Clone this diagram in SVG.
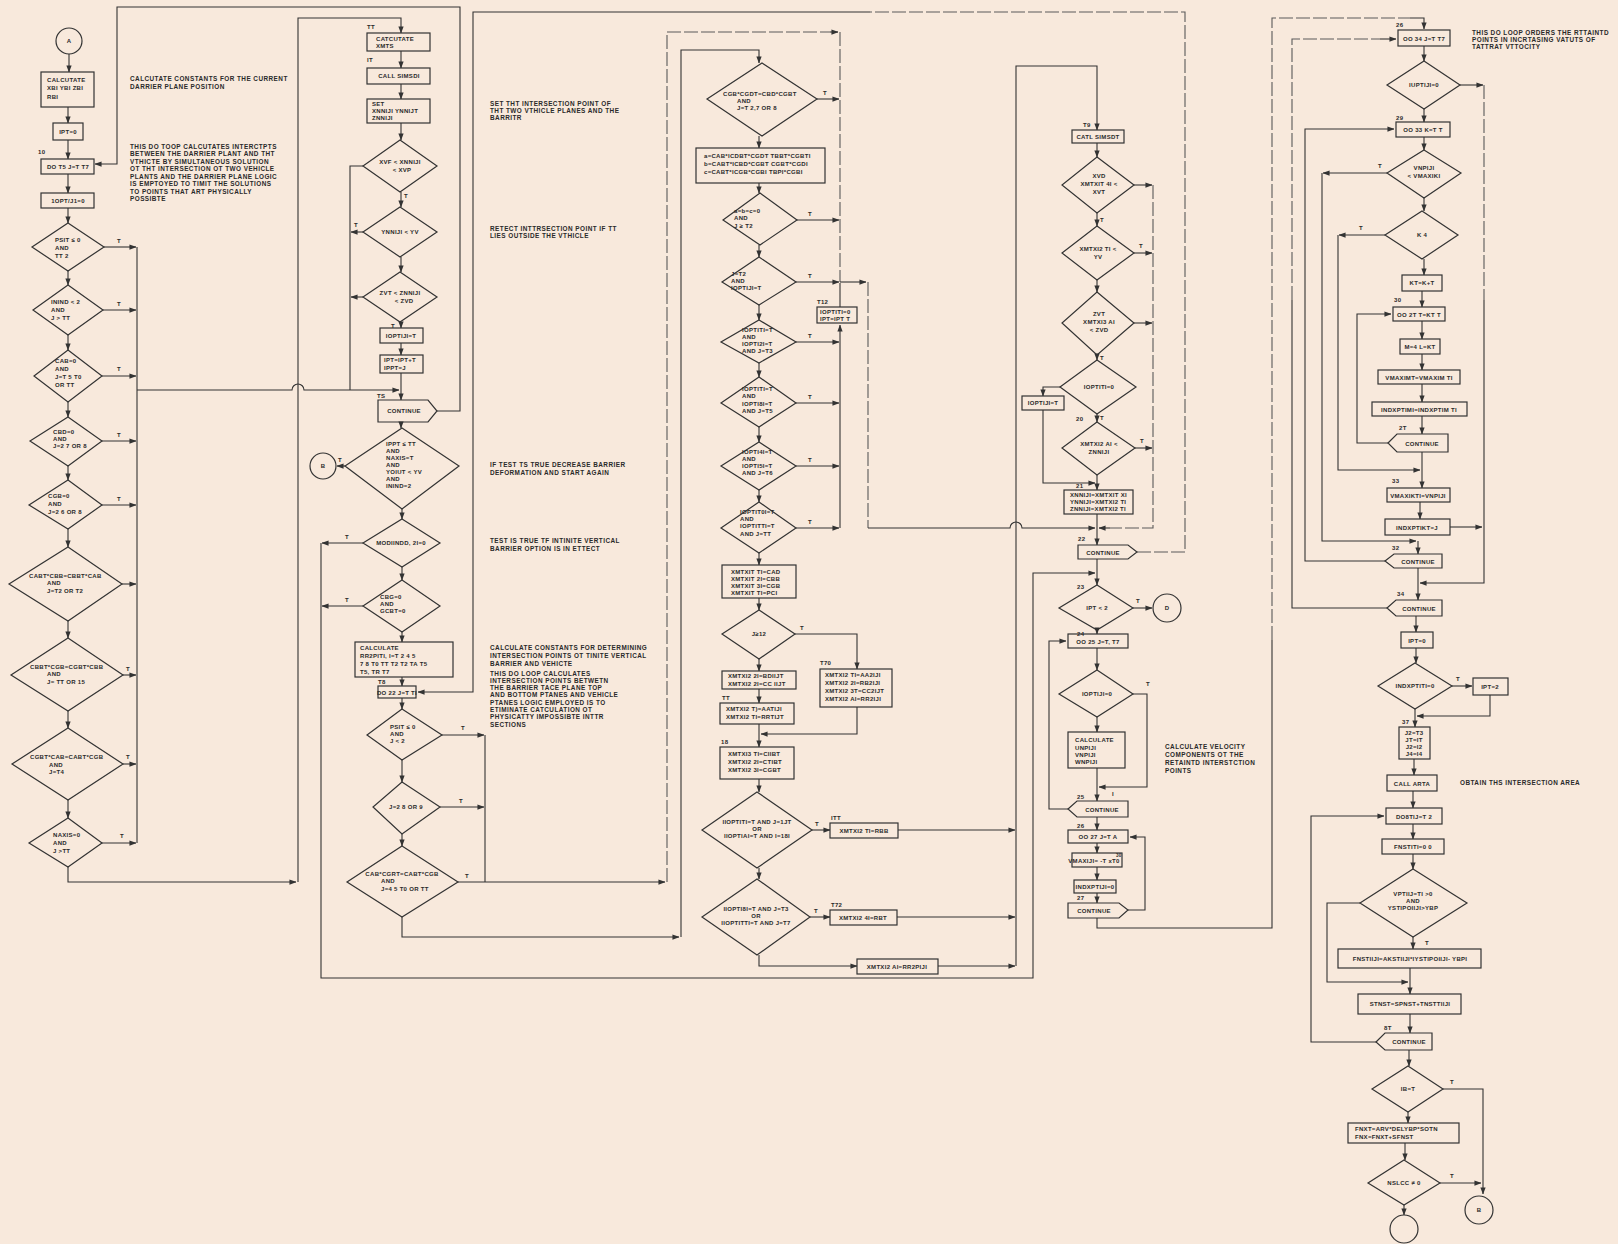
<svg xmlns="http://www.w3.org/2000/svg" width="1618" height="1244" viewBox="0 0 1618 1244">
<style>
.n rect,.n polygon,.n circle{fill:none;stroke:#333;stroke-width:1.2}
text{font-family:"Liberation Sans",Arial,sans-serif;font-weight:bold;fill:#2a2a2a;font-size:6px;letter-spacing:0.3px}
.m{text-anchor:middle}
.an{font-size:6.4px;letter-spacing:0.45px}
#conn path{fill:none;stroke:#333;stroke-width:1.1}
#conn .d{stroke:#5a5a5a;stroke-dasharray:14 3}
#conn .ar{marker-end:url(#ah)}
</style>
<defs><marker id="ah" viewBox="0 0 8 6" refX="7.5" refY="3" markerWidth="7" markerHeight="5.5" orient="auto" markerUnits="userSpaceOnUse"><path d="M0,0L8,3L0,6z" fill="#333"/></marker></defs>
<rect width="1618" height="1244" fill="#f8e9dc"/>

<g id="conn">
<path class="ar" d="M69,54V72"/><path class="ar" d="M68,107V123"/><path class="ar" d="M68,140V159"/><path class="ar" d="M68,174V193"/><path class="ar" d="M68,208V223"/>
<path class="ar" d="M68,271V285"/><path class="ar" d="M68,335V350"/><path class="ar" d="M68,402V417"/><path class="ar" d="M68,466V480"/><path class="ar" d="M68,529V547"/><path class="ar" d="M68,621V638"/><path class="ar" d="M68,711V728"/><path class="ar" d="M68,800V818"/>
<path class="ar" d="M68,867V882H296"/>
<path class="ar" d="M298,882V18H401V33"/>
<path class="ar" d="M104,247H136"/><path class="ar" d="M103,310H136"/><path class="ar" d="M102,376H136"/><path class="ar" d="M102,441H136"/><path class="ar" d="M102,505H136"/><path class="ar" d="M122,584H136"/><path class="ar" d="M123,675H136"/><path class="ar" d="M123,764H136"/><path class="ar" d="M102,843H136"/>
<path d="M137,247V843"/>
<path class="ar" d="M137,390H292A6,6 0 0 1 304,390H399"/>
<path class="ar" d="M401,51V68"/><path class="ar" d="M401,84V99"/><path class="ar" d="M401,123V140"/><path class="ar" d="M401,192V207"/><path class="ar" d="M401,257V272"/><path class="ar" d="M401,322V328"/><path class="ar" d="M401,343V355"/><path class="ar" d="M401,373V400"/>
<path d="M363,166H350V390"/><path class="ar" d="M363,232H351"/><path class="ar" d="M363,297H351"/>
<path class="ar" d="M437,411H460V7H117V164H95"/>
<path class="ar" d="M401,422V428"/>
<path class="ar" d="M345,466H337"/>
<path class="ar" d="M402,509V519"/><path class="ar" d="M363,543H322"/><path class="ar" d="M402,567V580"/><path class="ar" d="M363,606H322"/>
<path class="ar" d="M321,543V978H1033V573H1095"/>
<path class="ar" d="M402,632V642"/><path class="ar" d="M402,677V686"/><path class="ar" d="M402,698V709"/>
<path class="ar" d="M442,735H484"/><path class="ar" d="M402,760V782"/><path class="ar" d="M440,807H484"/><path class="ar" d="M402,834V846"/>
<path d="M485,735V882"/>
<path class="ar" d="M458,882H665"/>
<path class="ar" d="M402,917V937H679"/>
<path class="d" d="M667,882V32H830"/>
<path class="ar" d="M830,32H838"/>
<path class="ar" d="M681,937V50H759V63"/>
<path class="d" d="M840,32V282"/>
<path class="ar" d="M817,99H839"/><path class="ar" d="M759,136V148"/><path class="ar" d="M759,183V193"/><path class="ar" d="M797,220H839"/><path class="ar" d="M759,245V257"/><path class="ar" d="M796,282H839"/>
<path class="ar" d="M840,282H866"/>
<path class="d" d="M868,282V528"/>
<path class="ar" d="M868,528H1010A6,6 0 0 1 1022,528H1095"/>
<path d="M840,307V283"/>
<path class="ar" d="M840,528V325"/>
<path class="ar" d="M759,305V320"/><path class="ar" d="M796,342H839"/><path class="ar" d="M759,363V377"/><path class="ar" d="M796,403H839"/><path class="ar" d="M759,427V442"/><path class="ar" d="M796,466H839"/><path class="ar" d="M759,490V502"/><path class="ar" d="M796,528H839"/>
<path class="ar" d="M759,553V565"/><path class="ar" d="M759,598V610"/>
<path class="ar" d="M795,634H857V669"/>
<path class="ar" d="M759,659V671"/><path class="ar" d="M759,689V703"/>
<path class="ar" d="M857,707V734H761"/>
<path class="ar" d="M759,724V747"/><path class="ar" d="M759,779V792"/>
<path class="ar" d="M812,830H830"/><path class="ar" d="M898,830H1015"/>
<path class="ar" d="M759,868V879"/>
<path class="ar" d="M810,917H830"/><path class="ar" d="M897,917H1015"/>
<path class="ar" d="M759,955V966H857"/><path class="ar" d="M938,966H1015"/>
<path class="ar" d="M1016,966V66H1097V130"/>
<path class="ar" d="M1097,143V157"/><path class="ar" d="M1134,185H1152"/><path class="ar" d="M1097,213V226"/><path class="ar" d="M1134,253H1152"/><path class="ar" d="M1097,280V292"/><path class="ar" d="M1134,323H1152"/><path class="ar" d="M1097,355V360"/>
<path class="ar" d="M1060,387H1043V396"/>
<path class="ar" d="M1097,414V422"/><path class="ar" d="M1135,448H1152"/>
<path class="ar" d="M1043,410V483H1095"/>
<path class="ar" d="M1097,475V490"/>
<path class="d" d="M1153,185V528H1110"/>
<path class="ar" d="M1110,528H1099"/>
<path class="ar" d="M1097,514V545"/>
<path class="d" d="M1137,552H1185V12H870"/>
<path class="ar" d="M870,12H473V692H418"/>
<path class="ar" d="M1097,559V585"/>
<path class="ar" d="M1133,608H1152"/>
<path class="ar" d="M1097,630V634"/><path class="ar" d="M1097,648V670"/>
<path class="ar" d="M1133,694H1147V787H1099"/>
<path class="ar" d="M1097,717V732"/><path class="ar" d="M1097,768V801"/>
<path class="ar" d="M1068,809H1049V641H1066"/>
<path class="ar" d="M1097,817V830"/><path class="ar" d="M1097,843V853"/><path class="ar" d="M1097,867V880"/><path class="ar" d="M1097,893V903"/>
<path class="ar" d="M1128,910H1145V837H1130"/>
<path d="M1097,918V928H1272V640"/>
<path class="d" d="M1272,640V18H1410"/>
<path class="ar" d="M1410,18H1424V29"/>
<path class="ar" d="M1424,46V61"/>
<path class="ar" d="M1460,85H1483"/>
<path class="d" d="M1484,85V300"/>
<path class="ar" d="M1484,300V583H1420"/>
<path class="ar" d="M1424,109V122"/>
<path d="M1387,608H1292V300"/>
<path class="d" d="M1292,300V39H1380"/>
<path class="ar" d="M1380,39H1396"/>
<path class="ar" d="M1424,137V150"/>
<path class="ar" d="M1385,561H1305V129H1394"/>
<path class="ar" d="M1387,173H1323"/>
<path class="ar" d="M1322,173V541H1416"/>
<path class="ar" d="M1424,198V211"/>
<path class="ar" d="M1385,235H1339"/>
<path class="ar" d="M1338,235V470H1420"/>
<path class="ar" d="M1424,259V275"/><path class="ar" d="M1422,291V307"/>
<path class="ar" d="M1388,443H1357V314H1391"/>
<path class="ar" d="M1422,321V339"/><path class="ar" d="M1422,354V370"/><path class="ar" d="M1422,384V402"/><path class="ar" d="M1422,416V434"/><path class="ar" d="M1422,452V488"/><path class="ar" d="M1420,502V519"/>
<path class="ar" d="M1450,527H1482"/>
<path class="ar" d="M1418,541V554"/>
<path class="ar" d="M1418,568V600"/>
<path class="ar" d="M1416,616V632"/><path class="ar" d="M1416,648V663"/>
<path class="ar" d="M1452,686H1472"/>
<path class="ar" d="M1490,695V716H1417"/>
<path class="ar" d="M1415,709V727"/><path class="ar" d="M1414,759V775"/><path class="ar" d="M1413,791V808"/>
<path class="ar" d="M1376,1042H1311V816H1384"/>
<path class="ar" d="M1413,824V839"/><path class="ar" d="M1413,854V869"/>
<path class="ar" d="M1360,903H1327V982H1408"/>
<path class="ar" d="M1413,937V949"/><path class="ar" d="M1410,968V994"/><path class="ar" d="M1410,1014V1033"/><path class="ar" d="M1409,1050V1066"/>
<path class="ar" d="M1443,1089H1483V1194"/>
<path class="ar" d="M1408,1112V1123"/><path class="ar" d="M1405,1143V1160"/>
<path class="ar" d="M1440,1183H1481"/>
<path class="ar" d="M1404,1205V1215"/>
</g>

<g id="labels">
<text x="38" y="154">10</text>
<text x="117" y="243">T</text><text x="117" y="306">T</text><text x="117" y="371">T</text><text x="117" y="437">T</text><text x="117" y="501">T</text><text x="126" y="671">T</text><text x="126" y="759">T</text><text x="120" y="838">T</text>
<text x="367" y="29">TT</text><text x="367" y="62">IT</text>
<text x="404" y="198">T</text><text x="354" y="227">T</text><text x="391" y="328">T</text>
<text x="377" y="398">TS</text>
<text x="338" y="462">T</text><text x="345" y="539">T</text><text x="345" y="602">T</text>
<text x="378" y="684">T8</text>
<text x="461" y="730">T</text><text x="459" y="803">T</text><text x="465" y="878">T</text>
<text x="823" y="95">T</text><text x="808" y="216">T</text><text x="808" y="278">T</text>
<text x="817" y="304">T12</text>
<text x="808" y="338">T</text><text x="808" y="399">T</text><text x="808" y="462">T</text><text x="808" y="524">T</text>
<text x="800" y="630">T</text><text x="820" y="665">T70</text><text x="722" y="700">TT</text><text x="721" y="744">18</text>
<text x="815" y="826">T</text><text x="831" y="820">ITT</text>
<text x="814" y="913">T</text><text x="831" y="907">T72</text>
<text x="1083" y="127">T9</text>
<text x="1100" y="222">T</text><text x="1139" y="248">T</text><text x="1100" y="360">T</text>
<text x="1100" y="420">T</text><text x="1076" y="421">20</text><text x="1140" y="443">T</text>
<text x="1076" y="488">21</text><text x="1078" y="541">22</text>
<text x="1077" y="589">23</text><text x="1136" y="603">T</text><text x="1077" y="636">24</text>
<text x="1146" y="686">T</text><text x="1112" y="796">I</text>
<text x="1077" y="799">25</text><text x="1077" y="828">26</text><text x="1077" y="900">27</text>
<text x="1396" y="27">26</text><text x="1396" y="120">29</text>
<text x="1378" y="168">T</text><text x="1359" y="230">T</text>
<text x="1394" y="302">30</text><text x="1399" y="430">2T</text><text x="1392" y="483">33</text><text x="1392" y="550">32</text><text x="1397" y="596">34</text>
<text x="1456" y="681">T</text><text x="1402" y="724">37</text><text x="1425" y="945">T</text>
<text x="1384" y="1030">8T</text><text x="1450" y="1084">T</text><text x="1450" y="1178">T</text>
</g>

<g id="notes">
<text class="an" x="130" y="81">CALCUTATE CONSTANTS FOR THE CURRENT</text>
<text class="an" x="130" y="89">DARRIER PLANE POSITION</text>
<text class="an" x="130" y="149">THIS DO TOOP CALCUTATES INTERCTPTS</text>
<text class="an" x="130" y="156">BETWEEN THE DARRIER PLANT AND THT</text>
<text class="an" x="130" y="164">VTHICTE BY SIMULTANEOUS SOLUTION</text>
<text class="an" x="130" y="171">OT THT INTERSECTION OT TWO VEHICLE</text>
<text class="an" x="130" y="179">PLANTS AND THE DARRIER PLANE  LOGIC</text>
<text class="an" x="130" y="186">IS EMPTOYED TO TIMIT THE SOLUTIONS</text>
<text class="an" x="130" y="194">TO POINTS THAT ART PHYSICALLY</text>
<text class="an" x="130" y="201">POSSIBTE</text>
<text class="an" x="490" y="106">SET THT INTERSECTION POINT OF</text>
<text class="an" x="490" y="113">THT TWO VTHICLE PLANES AND THE</text>
<text class="an" x="490" y="120">BARRITR</text>
<text class="an" x="490" y="231">RETECT INTTRSECTION POINT IF TT</text>
<text class="an" x="490" y="238">LIES OUTSIDE THE VTHICLE</text>
<text class="an" x="490" y="467">IF TEST TS TRUE  DECREASE BARRIER</text>
<text class="an" x="490" y="475">DEFORMATION AND START AGAIN</text>
<text class="an" x="490" y="543">TEST IS TRUE TF INTINITE VERTICAL</text>
<text class="an" x="490" y="551">BARRIER OPTION IS IN ETTECT</text>
<text class="an" x="490" y="650">CALCULATE CONSTANTS FOR DETERMINING</text>
<text class="an" x="490" y="658">INTERSECTION POINTS OT TINITE VERTICAL</text>
<text class="an" x="490" y="666">BARRIER AND VEHICTE</text>
<text class="an" x="490" y="676">THIS DO LOOP CALCULATES</text>
<text class="an" x="490" y="683">INTERSECTION POINTS BETWETN</text>
<text class="an" x="490" y="690">THE BARRIER TACE PLANE  TOP</text>
<text class="an" x="490" y="697">AND BOTTOM PTANES AND VEHICLE</text>
<text class="an" x="490" y="705">PTANES  LOGIC EMPLOYED IS TO</text>
<text class="an" x="490" y="712">ETIMINATE CATCULATION OT</text>
<text class="an" x="490" y="719">PHYSICATTY IMPOSSIBTE INTTR</text>
<text class="an" x="490" y="727">SECTIONS</text>
<text class="an" x="1165" y="749">CALCULATE VELOCITY</text>
<text class="an" x="1165" y="757">COMPONENTS OT THE</text>
<text class="an" x="1165" y="765">RETAINTD INTERSTCTION</text>
<text class="an" x="1165" y="773">POINTS</text>
<text class="an" x="1472" y="35">THIS DO LOOP ORDERS THE RTTAINTD</text>
<text class="an" x="1472" y="42">POINTS IN INCRTASING VATUTS OF</text>
<text class="an" x="1472" y="49">TATTRAT VTTOCITY</text>
<text class="an" x="1460" y="785">OBTAIN THS INTERSECTION AREA</text>
</g>

<g id="n_A" class="n"><circle cx="69" cy="41" r="13"/><text class="m" x="69" y="43">A</text></g>
<g id="n_calcxb" class="n"><rect x="41" y="72" width="53" height="35"/><text x="47" y="82">CALCUTATE</text><text x="47" y="90">XBI YBI ZBI</text><text x="47" y="99">RBI</text></g>
<g id="n_ipt0" class="n"><rect x="53" y="123" width="30" height="17"/><text class="m" x="68" y="134">IPT=0</text></g>
<g id="n_do15" class="n"><rect x="41" y="159" width="53" height="15"/><text class="m" x="68" y="169">DO T5 J=T T7</text></g>
<g id="n_iopt0" class="n"><rect x="41" y="193" width="53" height="15"/><text class="m" x="68" y="203">1OPT/J1=0</text></g>
<g id="n_d1" class="n"><polygon points="68,223 104,247 68,271 32,247"/><text x="55" y="242">PSIT ≤ 0</text><text x="55" y="250">AND</text><text x="55" y="258">TT 2</text></g>
<g id="n_d2" class="n"><polygon points="68,285 103,310 68,335 33,310"/><text x="51" y="304">ININD &lt; 2</text><text x="51" y="312">AND</text><text x="51" y="320">J &gt; TT</text></g>
<g id="n_d3" class="n"><polygon points="68,350 102,376 68,402 34,376"/><text x="55" y="363">CAB=0</text><text x="55" y="371">AND</text><text x="55" y="379">J=T 5 T0</text><text x="55" y="387">OR TT</text></g>
<g id="n_d4" class="n"><polygon points="68,417 102,441 68,466 30,441"/><text x="53" y="434">CBD=0</text><text x="53" y="441">AND</text><text x="53" y="448">J=2 7 OR 8</text></g>
<g id="n_d5" class="n"><polygon points="68,480 102,505 68,529 29,505"/><text x="48" y="498">CGB=0</text><text x="48" y="506">AND</text><text x="48" y="514">J=2 6 OR 8</text></g>
<g id="n_d6" class="n"><polygon points="68,547 122,584 68,621 9,584"/><text x="29" y="578">CABT*CBB=CBBT*CAB</text><text x="47" y="585">AND</text><text x="47" y="593">J=T2 OR T2</text></g>
<g id="n_d7" class="n"><polygon points="68,638 123,675 68,711 11,675"/><text x="30" y="669">CBBT*CGB=CGBT*CBB</text><text x="47" y="676">AND</text><text x="47" y="684">J= TT OR 15</text></g>
<g id="n_d8" class="n"><polygon points="68,728 123,764 68,800 12,764"/><text x="30" y="759">CGBT*CAB=CABT*CGB</text><text x="49" y="767">AND</text><text x="49" y="774">J=T4</text></g>
<g id="n_d9" class="n"><polygon points="68,818 102,843 68,867 29,843"/><text x="53" y="837">NAXIS=0</text><text x="53" y="845">AND</text><text x="53" y="853">J &gt;TT</text></g>

<g id="n_xmts" class="n"><rect x="367" y="33" width="63" height="18"/><text x="376" y="41">CATCUTATE</text><text x="376" y="48">XMTS</text></g>
<g id="n_simsdi" class="n"><rect x="367" y="68" width="63" height="16"/><text class="m" x="399" y="78">CALL SIMSDI</text></g>
<g id="n_set" class="n"><rect x="367" y="99" width="63" height="24"/><text x="372" y="106">SET</text><text x="372" y="113">XNNIJI YNNIJT</text><text x="372" y="120">ZNNIJI</text></g>
<g id="n_xvf" class="n"><polygon points="400,140 437,166 400,192 363,166"/><text class="m" x="400" y="164">XVF &lt; XNNIJI</text><text class="m" x="402" y="172">&lt; XVP</text></g>
<g id="n_ynn" class="n"><polygon points="400,207 437,232 400,257 363,232"/><text class="m" x="400" y="234">YNNIJI &lt; YV</text></g>
<g id="n_zvt" class="n"><polygon points="400,272 437,297 400,322 363,297"/><text class="m" x="400" y="295">ZVT &lt; ZNNIJI</text><text class="m" x="404" y="303">&lt; ZVD</text></g>
<g id="n_ioptT" class="n"><rect x="380" y="328" width="43" height="15"/><text class="m" x="401" y="338">IOPTIJI=T</text></g>
<g id="n_iptinc" class="n"><rect x="380" y="355" width="43" height="18"/><text x="384" y="362">IPT=IPT+T</text><text x="384" y="370">IPPT=J</text></g>
<g id="n_cont15" class="n"><polygon points="378,400 428,400 437,411 428,422 378,422"/><text class="m" x="404" y="413">CONTINUE</text></g>
<g id="n_ippt" class="n"><polygon points="402,428 459,466 402,509 345,466"/><text x="386" y="446">IPPT ≤ TT</text><text x="386" y="453">AND</text><text x="386" y="460">NAXIS=T</text><text x="386" y="467">AND</text><text x="386" y="474">YOIUT &lt; YV</text><text x="386" y="481">AND</text><text x="386" y="488">ININD=2</text></g>
<g id="n_B1" class="n"><circle cx="323" cy="466" r="13"/><text class="m" x="323" y="468">B</text></g>
<g id="n_modi" class="n"><polygon points="402,519 440,543 402,567 363,543"/><text class="m" x="401" y="545">MODIINDD, 2I=0</text></g>
<g id="n_cbg" class="n"><polygon points="402,580 440,606 402,632 363,606"/><text x="380" y="599">CBG=0</text><text x="380" y="606">AND</text><text x="380" y="613">GCBT=0</text></g>
<g id="n_rr2p" class="n"><rect x="355" y="642" width="98" height="35"/><text x="360" y="650">CALCULATE</text><text x="360" y="658">RR2PITI, I=T 2  4 5</text><text x="360" y="666">7 8  T0  TT  T2  T2  TA  T5</text><text x="360" y="674">T5, TR  T7</text></g>
<g id="n_do22" class="n"><rect x="378" y="686" width="38" height="12"/><text class="m" x="397" y="695">DO 22 J=T TI</text></g>
<g id="n_psit" class="n"><polygon points="402,709 442,735 402,760 367,735"/><text x="390" y="729">PSIT ≤ 0</text><text x="390" y="736">AND</text><text x="390" y="743">J &lt; 2</text></g>
<g id="n_j289" class="n"><polygon points="402,782 440,807 402,834 373,807"/><text class="m" x="406" y="809">J=2 8 OR 9</text></g>
<g id="n_cab" class="n"><polygon points="402,846 458,882 402,917 347,882"/><text class="m" x="402" y="876">CAB*CGRT=CABT*CGB</text><text x="381" y="883">AND</text><text x="381" y="891">J=4 5 T0 OR TT</text></g>

<g id="n_cgb" class="n"><polygon points="762,63 817,99 762,136 707,99"/><text x="723" y="96">CGB*CGDT=CBD*CGBT</text><text x="737" y="103">AND</text><text x="737" y="110">J=T 2,7 OR 8</text></g>
<g id="n_abc" class="n"><rect x="696" y="148" width="129" height="35"/><text x="704" y="158">a=CAB*ICDBT*CGDT TBBT*CGBTI</text><text x="704" y="166">b=CABT*ICBD*CGBT CGBT*CGDI</text><text x="704" y="174">c=CABT*ICGB*CGBI TBPI*CGBI</text></g>
<g id="n_abc0" class="n"><polygon points="760,193 797,220 760,245 723,220"/><text x="734" y="213">a=b=c=0</text><text x="734" y="220">AND</text><text x="734" y="228">J ≥ T2</text></g>
<g id="n_jt2" class="n"><polygon points="759,257 796,282 759,305 722,282"/><text x="731" y="276">J=T2</text><text x="731" y="283">AND</text><text x="731" y="290">IOPTIJI=T</text></g>
<g id="n_t12" class="n"><rect x="817" y="307" width="40" height="16"/><text x="820" y="314">IOPTITI=0</text><text x="820" y="321">IPT=IPT  T</text></g>
<g id="n_c1" class="n"><polygon points="759,320 796,342 759,363 721,342"/><text x="742" y="332">IOPTITI=T</text><text x="742" y="339">AND</text><text x="742" y="346">IOPTI2I=T</text><text x="742" y="353">AND J=T3</text></g>
<g id="n_c2" class="n"><polygon points="759,377 796,403 759,427 721,403"/><text x="742" y="391">IOPTITI=T</text><text x="742" y="398">AND</text><text x="742" y="406">IOPTI8I=T</text><text x="742" y="413">AND J=T5</text></g>
<g id="n_c3" class="n"><polygon points="759,442 796,466 759,490 721,466"/><text x="742" y="454">IOPTI4I=T</text><text x="742" y="461">AND</text><text x="742" y="468">IOPTI5I=T</text><text x="742" y="475">AND J=T6</text></g>
<g id="n_c4" class="n"><polygon points="759,502 796,528 759,553 721,528"/><text x="740" y="514">IOPTIT0I=T</text><text x="740" y="521">AND</text><text x="740" y="528">IOPTITTI=T</text><text x="740" y="536">AND J=TT</text></g>
<g id="n_xmt1" class="n"><rect x="722" y="565" width="74" height="33"/><text x="731" y="574">XMTXIT TI=CAD</text><text x="731" y="581">XMTXIT 2I=CBB</text><text x="731" y="588">XMTXIT 3I=CGB</text><text x="731" y="595">XMTXIT  TI=PCI</text></g>
<g id="n_j12" class="n"><polygon points="759,610 795,634 759,659 722,634"/><text class="m" x="759" y="636">J≥12</text></g>
<g id="n_bbcc" class="n"><rect x="722" y="671" width="74" height="18"/><text x="728" y="678">XMTXI2  2I=BDIIJT</text><text x="728" y="686">XMTXI2  2I=CC IIJT</text></g>
<g id="n_aat" class="n"><rect x="720" y="703" width="74" height="21"/><text x="726" y="711">XMTXI2  T)=AATIJI</text><text x="726" y="719">XMTXI2  TI=RRTIJT</text></g>
<g id="n_t70" class="n"><rect x="820" y="669" width="72" height="38"/><text x="825" y="677">XMTXI2  TI=AA2IJI</text><text x="825" y="685">XMTXI2  2I=RB2IJI</text><text x="825" y="693">XMTXI2  3T=CC2IJT</text><text x="825" y="701">XMTXI2  AI=RR2IJI</text></g>
<g id="n_18" class="n"><rect x="720" y="747" width="74" height="32"/><text x="728" y="756">XMTXI3  TI=CIIBT</text><text x="728" y="764">XMTXI2  2I=CTIBT</text><text x="728" y="772">XMTXI2  3I=CGBT</text></g>
<g id="n_e1" class="n"><polygon points="757,792 812,830 757,868 702,830"/><text class="m" x="757" y="824">IIOPTITI=T AND J=1JT</text><text class="m" x="757" y="831">OR</text><text class="m" x="757" y="838">IIOPTIAI=T AND I=18I</text></g>
<g id="n_rbb" class="n"><rect x="830" y="823" width="68" height="15"/><text class="m" x="864" y="833">XMTXI2  TI=RBB</text></g>
<g id="n_e2" class="n"><polygon points="757,879 810,917 757,955 702,917"/><text class="m" x="756" y="911">IIOPTI8I=T AND J=T3</text><text class="m" x="756" y="918">OR</text><text class="m" x="756" y="925">IIOPTITTI=T AND J=T7</text></g>
<g id="n_rbt" class="n"><rect x="830" y="910" width="67" height="15"/><text class="m" x="863" y="920">XMTXI2  4I=RBT</text></g>
<g id="n_rr2pj" class="n"><rect x="857" y="959" width="81" height="15"/><text class="m" x="897" y="969">XMTXI2  AI=RR2PIJI</text></g>

<g id="n_simsdt" class="n"><rect x="1072" y="130" width="52" height="13"/><text class="m" x="1098" y="139">CATL SIMSDT</text></g>
<g id="n_xvd" class="n"><polygon points="1097,157 1134,185 1097,213 1062,185"/><text class="m" x="1099" y="178">XVD</text><text class="m" x="1099" y="186">XMTXIT  4I &lt;</text><text class="m" x="1099" y="194">XVT</text></g>
<g id="n_yv" class="n"><polygon points="1097,226 1134,253 1097,280 1062,253"/><text class="m" x="1098" y="251">XMTXI2  TI &lt;</text><text class="m" x="1098" y="259">YV</text></g>
<g id="n_zvd" class="n"><polygon points="1097,292 1134,323 1097,355 1062,323"/><text class="m" x="1099" y="316">ZVT</text><text class="m" x="1099" y="324">XMTXI3  AI</text><text class="m" x="1099" y="332">&lt; ZVD</text></g>
<g id="n_ioptt0" class="n"><polygon points="1097,360 1136,387 1097,414 1060,387"/><text class="m" x="1099" y="389">IOPTITI=0</text></g>
<g id="n_ioptjt" class="n"><rect x="1022" y="396" width="42" height="14"/><text class="m" x="1043" y="405">IOPTIJI=T</text></g>
<g id="n_znn" class="n"><polygon points="1097,422 1135,448 1097,475 1062,448"/><text class="m" x="1099" y="446">XMTXI2  AI &lt;</text><text class="m" x="1099" y="454">ZNNIJI</text></g>
<g id="n_21" class="n"><rect x="1064" y="490" width="69" height="24"/><text x="1070" y="497">XNNIJI=XMTXIT  XI</text><text x="1070" y="504">YNNIJI=XMTXI2  TI</text><text x="1070" y="511">ZNNIJI=XMTXI2  TI</text></g>
<g id="n_cont22" class="n"><polygon points="1078,545 1128,545 1137,552 1128,559 1078,559"/><text class="m" x="1103" y="555">CONTINUE</text></g>
<g id="n_ipt2" class="n"><polygon points="1097,585 1133,608 1097,630 1059,608"/><text class="m" x="1097" y="610">IPT &lt; 2</text></g>
<g id="n_D" class="n"><circle cx="1167" cy="608" r="14"/><text class="m" x="1167" y="610">D</text></g>
<g id="n_do25" class="n"><rect x="1068" y="634" width="60" height="14"/><text class="m" x="1098" y="644">OO 25 J=T, T7</text></g>
<g id="n_ioptj0" class="n"><polygon points="1097,670 1133,694 1097,717 1059,694"/><text class="m" x="1097" y="696">IOPTIJI=0</text></g>
<g id="n_calcv" class="n"><rect x="1068" y="732" width="57" height="36"/><text x="1075" y="742">CALCULATE</text><text x="1075" y="750">UNPIJI</text><text x="1075" y="757">VNPIJI</text><text x="1075" y="764">WNPIJI</text></g>
<g id="n_cont25" class="n"><polygon points="1068,809 1077,801 1128,801 1128,817 1077,817"/><text class="m" x="1102" y="812">CONTINUE</text></g>
<g id="n_do27" class="n"><rect x="1068" y="830" width="60" height="13"/><text class="m" x="1098" y="839">OO 27 J=T  A</text></g>
<g id="n_vmax" class="n"><rect x="1072" y="853" width="50" height="14"/><text class="m" x="1094" y="863">VMAXIJI= -T xT0</text><text x="1116" y="857" style="font-size:4.5px">30</text></g>
<g id="n_indx0" class="n"><rect x="1074" y="880" width="42" height="13"/><text class="m" x="1095" y="889">INDXPTIJI=0</text></g>
<g id="n_cont27" class="n"><polygon points="1068,903 1119,903 1128,910 1119,918 1068,918"/><text class="m" x="1094" y="913">CONTINUE</text></g>

<g id="n_do34" class="n"><rect x="1398" y="30" width="52" height="16"/><text class="m" x="1424" y="41">OO 34 J=T  T7</text></g>
<g id="n_iuptj" class="n"><polygon points="1424,61 1460,85 1424,109 1387,85"/><text class="m" x="1424" y="87">IUPTIJI=0</text></g>
<g id="n_do33" class="n"><rect x="1396" y="122" width="54" height="15"/><text class="m" x="1423" y="132">OO 33 K=T  T</text></g>
<g id="n_vnp" class="n"><polygon points="1424,150 1461,173 1424,198 1387,173"/><text class="m" x="1424" y="170">VNPIJI</text><text class="m" x="1424" y="178">&lt; VMAXIKI</text></g>
<g id="n_k4" class="n"><polygon points="1422,211 1458,235 1422,259 1385,235"/><text class="m" x="1422" y="237">K  4</text></g>
<g id="n_kt" class="n"><rect x="1402" y="275" width="40" height="16"/><text class="m" x="1422" y="285">KT=K+T</text></g>
<g id="n_do2t" class="n"><rect x="1393" y="307" width="52" height="14"/><text class="m" x="1419" y="317">OO 2T T=KT  T</text></g>
<g id="n_m4" class="n"><rect x="1400" y="339" width="40" height="15"/><text class="m" x="1420" y="349">M=4  L=KT</text></g>
<g id="n_vmaxm" class="n"><rect x="1378" y="370" width="82" height="14"/><text class="m" x="1419" y="380">VMAXIMT=VMAXIM  TI</text></g>
<g id="n_indxm" class="n"><rect x="1372" y="402" width="95" height="14"/><text class="m" x="1419" y="412">INDXPTIMI=INDXPTIM  TI</text></g>
<g id="n_cont2t" class="n"><polygon points="1388,443 1397,434 1448,434 1448,452 1397,452"/><text class="m" x="1422" y="446">CONTINUE</text></g>
<g id="n_vmaxkt" class="n"><rect x="1387" y="488" width="63" height="14"/><text class="m" x="1418" y="498">VMAXIKTI=VNPIJI</text></g>
<g id="n_indxkt" class="n"><rect x="1385" y="519" width="65" height="16"/><text class="m" x="1417" y="530">INDXPTIKT=J</text></g>
<g id="n_cont32" class="n"><polygon points="1385,561 1394,554 1442,554 1442,568 1394,568"/><text class="m" x="1418" y="564">CONTINUE</text></g>
<g id="n_cont34" class="n"><polygon points="1387,608 1396,600 1442,600 1442,616 1396,616"/><text class="m" x="1419" y="611">CONTINUE</text></g>
<g id="n_ipt0b" class="n"><rect x="1401" y="632" width="32" height="16"/><text class="m" x="1417" y="643">IPT=0</text></g>
<g id="n_indxt0" class="n"><polygon points="1415,663 1452,686 1415,709 1378,686"/><text class="m" x="1415" y="688">INDXPTITI=0</text></g>
<g id="n_ipt2b" class="n"><rect x="1473" y="678" width="35" height="17"/><text class="m" x="1490" y="689">IPT=2</text></g>
<g id="n_j37" class="n"><rect x="1399" y="727" width="31" height="32"/><text class="m" x="1414" y="735">J2=T3</text><text class="m" x="1414" y="742">JT=IT</text><text class="m" x="1414" y="749">J2=I2</text><text class="m" x="1414" y="756">J4=I4</text></g>
<g id="n_area" class="n"><rect x="1387" y="775" width="50" height="16"/><text class="m" x="1412" y="786">CALL ARTA</text></g>
<g id="n_do8t" class="n"><rect x="1386" y="808" width="56" height="16"/><text class="m" x="1414" y="819">DO8TIJ=T 2</text></g>
<g id="n_fnst0" class="n"><rect x="1382" y="839" width="62" height="15"/><text class="m" x="1413" y="849">FNSTITI=0 0</text></g>
<g id="n_vpt" class="n"><polygon points="1413,869 1467,903 1413,937 1360,903"/><text class="m" x="1413" y="896">VPTIIJ=TI &gt;0</text><text class="m" x="1413" y="903">AND</text><text class="m" x="1413" y="910">YSTIPOIIJI&gt;YBP</text></g>
<g id="n_fnst" class="n"><rect x="1338" y="949" width="143" height="19"/><text class="m" x="1410" y="961">FNSTIIJI=AKSTIIJI*IYSTIPOIIJI- YBPI</text></g>
<g id="n_stnst" class="n"><rect x="1358" y="994" width="103" height="20"/><text class="m" x="1410" y="1006">STNST=SPNST+TNSTTIIJI</text></g>
<g id="n_cont8t" class="n"><polygon points="1376,1042 1385,1033 1432,1033 1432,1050 1385,1050"/><text class="m" x="1409" y="1044">CONTINUE</text></g>
<g id="n_ib" class="n"><polygon points="1408,1066 1443,1089 1408,1112 1372,1089"/><text class="m" x="1408" y="1091">IB=T</text></g>
<g id="n_fnx" class="n"><rect x="1348" y="1123" width="111" height="20"/><text x="1355" y="1131">FNXT=ARV*DELYBP*SOTN</text><text x="1355" y="1139">FNX=FNXT+SFNST</text></g>
<g id="n_nslcc" class="n"><polygon points="1404,1160 1440,1183 1404,1205 1368,1183"/><text class="m" x="1404" y="1185">NSLCC ≠ 0</text></g>
<g id="n_B2" class="n"><circle cx="1479" cy="1210" r="14"/><text class="m" x="1479" y="1212">B</text></g>
<g id="n_end" class="n"><circle cx="1404" cy="1229" r="14"/></g>
</svg>
